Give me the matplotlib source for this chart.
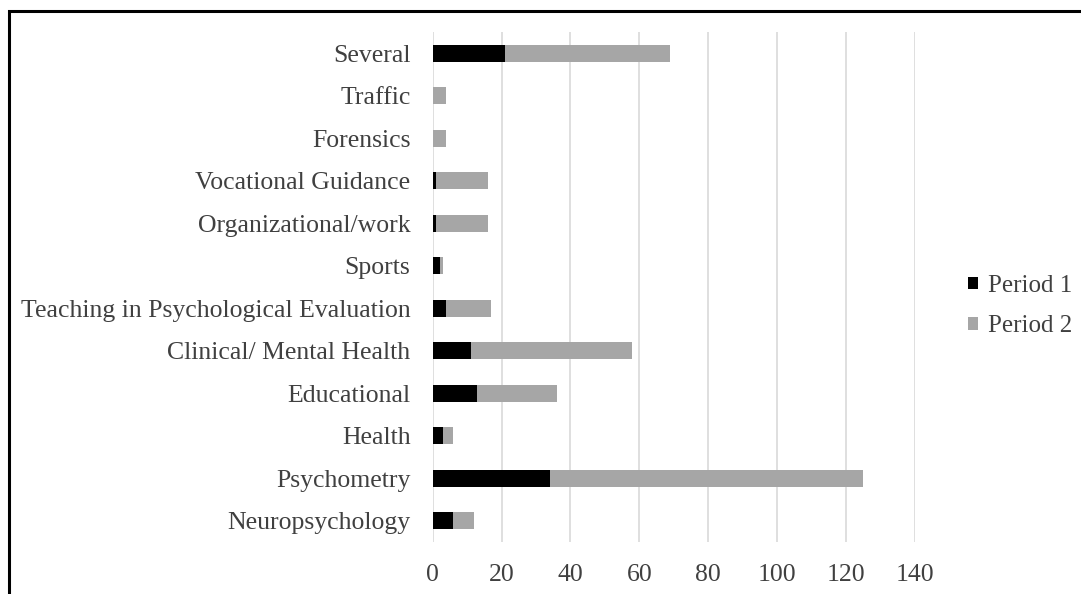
import matplotlib
matplotlib.use("Agg")
import matplotlib.pyplot as plt
from matplotlib.patches import Rectangle

categories = ["Neuropsychology", "Psychometry", "Health", "Educational",
              "Clinical/ Mental Health", "Teaching in Psychological Evaluation",
              "Sports", "Organizational/work", "Vocational Guidance",
              "Forensics", "Traffic", "Several"]
period1 = [6, 34, 3, 13, 11, 4, 2, 1, 1, 0, 0, 21]
period2 = [6, 91, 3, 23, 47, 13, 1, 15, 15, 4, 4, 48]
xticks = [0, 20, 40, 60, 80, 100, 120, 140]

plt.rcParams['font.family'] = ['Liberation Serif', 'DejaVu Serif']
W, H = 1081, 594
fig = plt.figure(figsize=(W / 100, H / 100), dpi=100)
ax = fig.add_axes([432.7 / W, 52 / H, (914.8 - 432.7) / W, (562 - 52) / H])

y = range(len(categories))
ax.barh(y, period1, height=0.4, color="#000000", label="Period 1", zorder=3)
ax.barh(y, period2, left=period1, height=0.4, color="#a6a6a6", label="Period 2", zorder=3)

ax.set_xlim(0, 140)
ax.set_ylim(-0.5, len(categories) - 0.5)
ax.set_xticks(xticks)
ax.set_yticks(list(y))
ax.set_yticklabels(categories)
ax.xaxis.grid(True, color="#d9d9d9", linewidth=1.2, zorder=0)
ax.set_axisbelow(True)
for s in ax.spines.values():
    s.set_visible(False)
ax.tick_params(axis="both", length=0, labelsize=18.5, colors="#404040")
ax.tick_params(axis="y", pad=16)
ax.tick_params(axis="x", pad=16)

leg = fig.legend(loc="center left", bbox_to_anchor=(968 / W, 1 - 306 / H),
                 frameon=False, fontsize=18, handlelength=0.38, handleheight=0.38,
                 handletextpad=0.42, labelspacing=0.75, borderpad=0, borderaxespad=0,
                 labelcolor="#404040")

fig.patches.append(Rectangle((9 / W, -0.1), 1.2, (594 - 11) / H + 0.1,
                             transform=fig.transFigure, fill=False,
                             edgecolor="black", linewidth=2.2, zorder=10))

fig.savefig("out.png", dpi=100)
